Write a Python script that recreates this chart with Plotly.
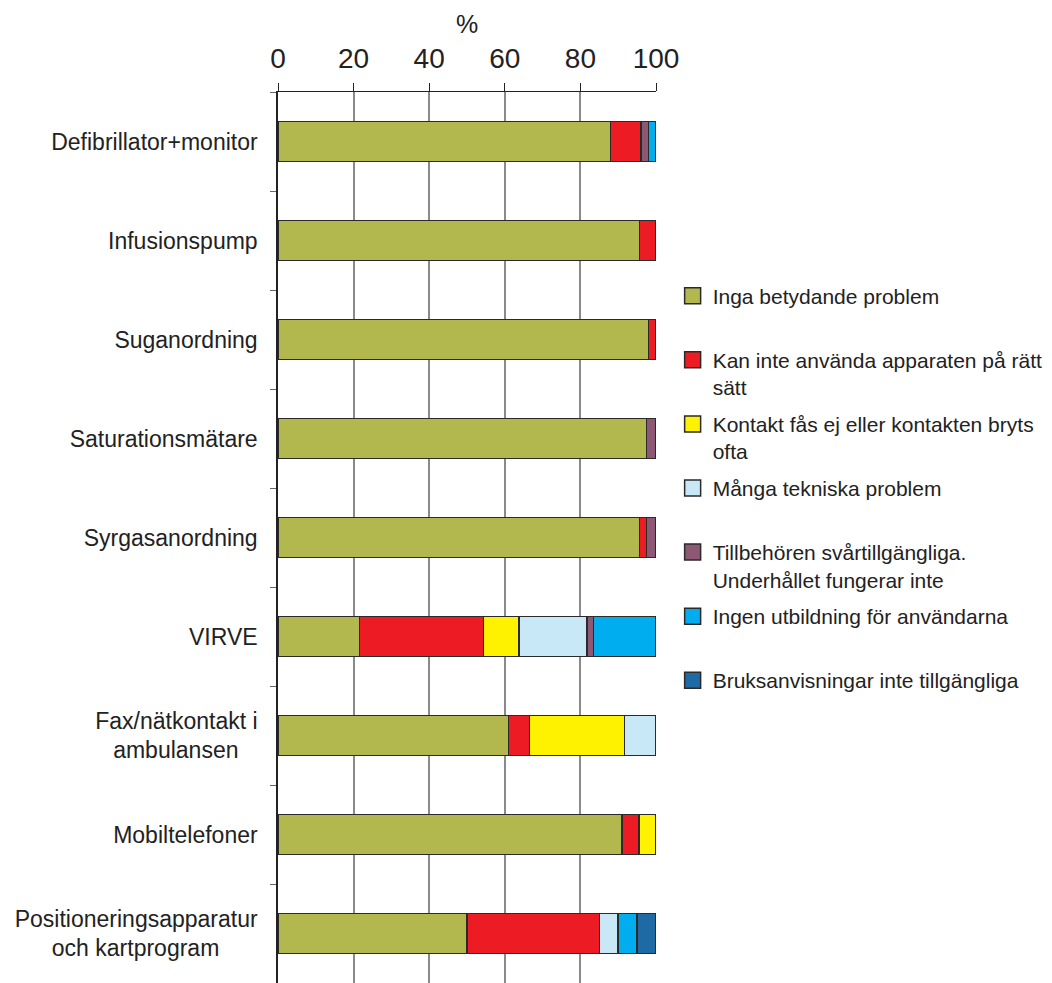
import plotly.graph_objects as go

categories = [
    "Defibrillator+monitor",
    "Infusionspump",
    "Suganordning",
    "Saturationsmätare",
    "Syrgasanordning",
    "VIRVE",
    "Fax/nätkontakt i<br>ambulansen\u00a0\u00a0\u00a0",
    "Mobiltelefoner",
    "Positioneringsapparatur<br>och kartprogram\u00a0\u00a0\u00a0\u00a0\u00a0\u00a0",
]

series_names = [
    "Inga betydande problem",
    "Kan inte använda apparaten på rätt<br>sätt",
    "Kontakt fås ej eller kontakten bryts<br>ofta",
    "Många tekniska problem",
    "Tillbehören svårtillgängliga.<br>Underhållet fungerar inte",
    "Ingen utbildning för användarna",
    "Bruksanvisningar inte tillgängliga",
]

inga = [88, 95.6, 98, 97.5, 95.6, 21.6, 61, 91, 50]
kan = [8, 4.4, 2, 0, 1.9, 32.7, 5.5, 4.5, 35]
kontakt = [0, 0, 0, 0, 0, 9.4, 25.1, 4.5, 0]
manga = [0, 0, 0, 0, 0, 18, 8.4, 0, 5]
tillbehor = [2, 0, 0, 2.5, 2.5, 1.7, 0, 0, 0]
ingen = [2, 0, 0, 0, 0, 16.6, 0, 0, 5]
bruks = [0, 0, 0, 0, 0, 0, 0, 0, 5]

series_values = [inga, kan, kontakt, manga, tillbehor, ingen, bruks]
colors = ["#B2B84E", "#ED1C24", "#FFF200", "#C8E8F8", "#8E5875", "#00AEEF", "#1E6AA4"]

FONT = "Liberation Sans, Arial, Helvetica, sans-serif"

fig = go.Figure()
for i, (name, vals, col) in enumerate(zip(series_names, series_values, colors)):
    fig.add_trace(go.Bar(
        y=categories, x=vals, orientation="h", name=name,
        marker=dict(color=col, line=dict(color="#2a2a2a", width=1.5)),
        width=0.4, showlegend=False, legendgroup=str(i),
    ))
for i, (name, col) in enumerate(zip(series_names, colors)):
    label = name if "<br>" in name else name + "<br>\u00a0"
    fig.add_trace(go.Scatter(
        x=[None], y=[None], mode="markers", name=label,
        marker=dict(symbol="square", size=16, color=col,
                    line=dict(color="#2a2a2a", width=1.5)),
        legendgroup=str(i), showlegend=True,
    ))

fig.update_layout(
    width=1052, height=983,
    margin=dict(l=278, r=396, t=92, b=0),
    barmode="stack",
    plot_bgcolor="white", paper_bgcolor="white",
    font=dict(family=FONT, color="#222222", size=21),
    legend=dict(
        x=1.044, y=0.794, xanchor="left", yanchor="top",
        font=dict(size=21, family=FONT, color="#222222"),
        traceorder="grouped", tracegroupgap=6.5, valign="top",
        itemsizing="trace", bgcolor="rgba(0,0,0,0)",
    ),
    xaxis=dict(
        side="top", range=[0, 100], tickvals=[0, 20, 40, 60, 80, 100],
        ticks="outside", ticklen=8, tickcolor="#222", tickwidth=1,
        showline=True, linecolor="#222", linewidth=1,
        showgrid=True, gridcolor="#8a8a8a", gridwidth=1.5,
        zeroline=False,
        tickfont=dict(size=28, family=FONT, color="#222"),
        title=dict(text="%", font=dict(size=25, family=FONT, color="#222"), standoff=2),
        ticklabelstandoff=4,
    ),
    yaxis=dict(
        categoryorder="array", categoryarray=categories,
        range=[8.5, -0.5],
        showline=True, linecolor="#222", linewidth=1.5,
        ticks="outside", tickson="boundaries", ticklen=6, tickcolor="#666",
        tickfont=dict(size=23, family=FONT, color="#222"),
        showgrid=False, zeroline=False,
        ticklabelstandoff=14,
    ),
)

fig.write_html("out.html")
